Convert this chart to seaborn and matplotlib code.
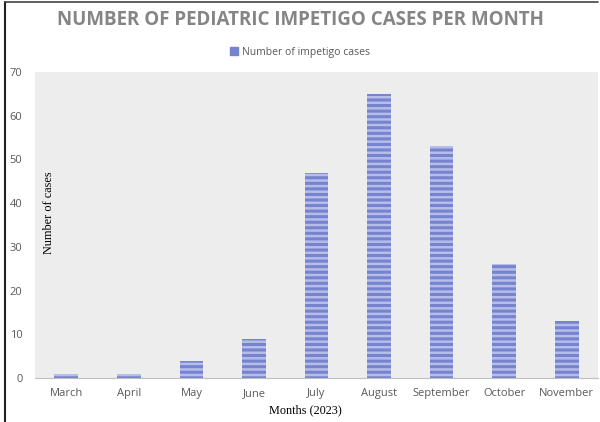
import matplotlib
matplotlib.use("Agg")
import matplotlib.pyplot as plt
import seaborn as sns
import pandas as pd
from matplotlib.lines import Line2D
from matplotlib.patches import Patch

months = ["March", "April", "May", "June", "July", "August", "September", "October", "November"]
cases = [1, 1, 4, 9, 47, 65, 53, 26, 13]

df = pd.DataFrame({"Month": months, "Cases": cases})

sns.set_style("white")
plt.rcParams["font.family"] = ["Open Sans", "DejaVu Sans"]
plt.rcParams["hatch.linewidth"] = 1.8

fig = plt.figure(figsize=(6, 4.22), dpi=100)
ax = fig.add_axes([35 / 600, 1 - 378 / 422, (598 - 35) / 600, (378 - 72) / 422])
ax.set_facecolor("#ededed")

sns.barplot(x="Month", y="Cases", data=df, color="#7683cd", width=0.38,
            saturation=1, ax=ax)
for bar in ax.patches:
    bar.set_hatch("---")
    bar.set_edgecolor("#b6bdea")
    bar.set_linewidth(0)

ax.set_ylim(0, 70)
ax.set_yticks(range(0, 71, 10))
ax.set_xlim(-0.5, 8.5)
ax.set_xlabel("")
ax.set_ylabel("")
ax.tick_params(axis="both", colors="#595959", labelsize=8, length=0)
ax.tick_params(axis="y", pad=9)
ax.tick_params(axis="x", pad=7)
for s in ["top", "right", "left"]:
    ax.spines[s].set_visible(False)
ax.spines["bottom"].set_color("#bfbfbf")
ax.spines["bottom"].set_linewidth(0.8)

# axis labels
ax.text(0.024, 0.54, "Number of cases", transform=ax.transAxes, rotation=90,
        ha="center", va="center", fontsize=8.8, family=["Liberation Serif"],
        color="black")
fig.text(305 / 600, 1 - 410 / 422, "Months (2023)", ha="center", va="center",
         fontsize=8.8, family=["Liberation Serif"], color="black")

# title
fig.text(300 / 600, 1 - 20 / 422, "NUMBER OF PEDIATRIC IMPETIGO CASES PER MONTH",
         ha="center", va="center", fontsize=13.5, fontweight="bold", color="#858585")

# legend
handle = Patch(facecolor="#7683cd", edgecolor="#7683cd")
fig.legend([handle], ["Number of impetigo cases"], loc="center",
           bbox_to_anchor=(300 / 600, 1 - 52 / 422), frameon=False,
           fontsize=7.5, labelcolor="#595959", handlelength=0.7, handleheight=0.7,
           handletextpad=0.4)

# frame lines on the page
fig.add_artist(Line2D([5 / 600, 5 / 600], [0, 1 - 2 / 422], color="#222222", lw=1.5))
fig.add_artist(Line2D([5 / 600, 598 / 600], [1 - 2 / 422, 1 - 2 / 422], color="#444444", lw=1.2))

fig.savefig("out.png", dpi=100)
